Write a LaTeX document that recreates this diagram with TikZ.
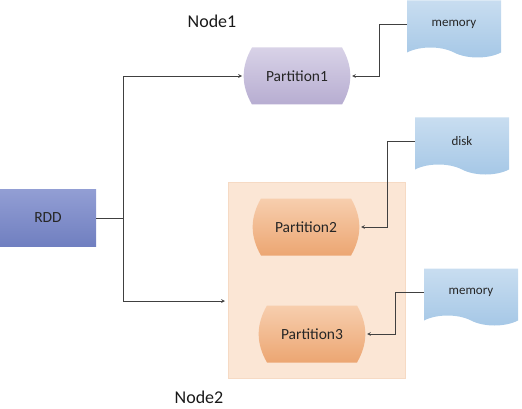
\documentclass[tikz,border=0pt]{standalone}
\usepackage{fontspec}
\setmainfont{Carlito}
\usetikzlibrary{shapes.symbols, arrows, positioning, backgrounds}

\definecolor{partpurpletop}{RGB}{216,210,231}
\definecolor{partpurplebot}{RGB}{183,173,209}
\definecolor{partorangetop}{RGB}{247,206,174}
\definecolor{partorangebot}{RGB}{236,166,114}
\definecolor{docbluetop}{RGB}{200,221,240}
\definecolor{docbluebot}{RGB}{165,199,230}
\definecolor{rddtop}{RGB}{146,158,212}
\definecolor{rddbot}{RGB}{112,127,192}
\definecolor{nodeboxfill}{RGB}{251,230,213}
\definecolor{nodeboxline}{RGB}{246,218,196}
\definecolor{linkgray}{RGB}{64,64,64}

\begin{document}
\begin{tikzpicture}[x=1pt, y=-1pt, outer sep=0pt]

\tikzstyle{part}=[rectangle, minimum width=104pt, minimum height=57pt, text=black!85, font=\fontsize{15.5}{18}\selectfont]
\tikzstyle{doc}=[tape, tape bend top=none, tape bend bottom=out and in, tape bend height=10pt, minimum width=94pt, minimum height=57pt, top color=docbluetop, bottom color=docbluebot, text=black!85, font=\fontsize{13}{15}\selectfont]
\tikzstyle{label}=[font=\fontsize{18}{21}\selectfont, text=black!90]
\tikzstyle{link}=[->, >=stealth, draw=linkgray, line width=0.7pt, shorten >=3pt]

\useasboundingbox (0,0) rectangle (522,409);

\node[top color=rddtop, bottom color=rddbot, minimum width=96pt, minimum height=57pt, text=black!85, font=\fontsize{15.5}{18}\selectfont] (rdd) at (48,218) {RDD};

\node[part] (part1) at (297,76) {Partition1};
\node[part] (part2) at (306,227) {Partition2};
\node[part] (part3) at (312,334) {Partition3};

\begin{scope}[on background layer]
\node[fill=nodeboxfill, draw=nodeboxline, minimum width=177pt, minimum height=196pt] (node2box) at (316.5,280) {};
% partition outlines with bulging sides
\foreach \p/\c in {part1/purple, part2/orange, part3/orange}
  \shade[top color=part\c top, bottom color=part\c bot]
    ([xshift=7pt]\p.north west) to[bend right=30] ([xshift=7pt]\p.south west)
    -- ([xshift=-7pt]\p.south east) to[bend right=30] ([xshift=-7pt]\p.north east) -- cycle;
\end{scope}

\node[doc] (mem1) at (454,24) {memory};
\node[doc] (disk) at (462,141) {disk};
\node[doc] (mem2) at (471,292) {memory};

\node[label] (node1) at (212,21) {Node1};
\node[label] (node2) at (199,397) {Node2};

\coordinate (split) at (123,218);
\draw[draw=linkgray, line width=0.7pt] (rdd.east) -- (split);
\draw[link] (split) |- (part1.west);
\draw[link] (split) |- ([yshift=-21pt]node2box.west);

\draw[link] (mem1.west) -- ++(-28,0) |- (part1.east);
\draw[link] (disk.west) -- ++(-28,0) |- (part2.east);
\draw[link] (mem2.west) -- ++(-29,0) |- (part3.east);
\end{tikzpicture}
\end{document}
